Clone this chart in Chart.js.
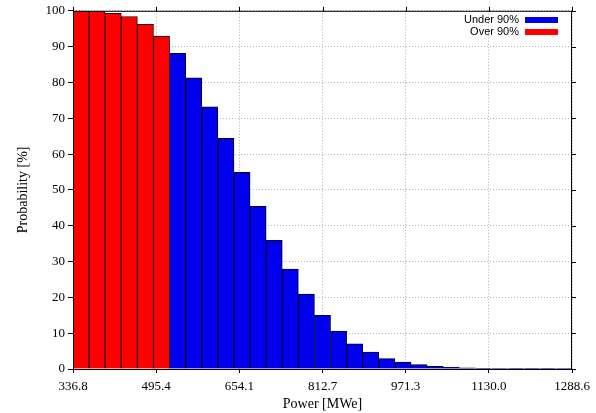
<!DOCTYPE html>
<html>
<head>
<meta charset="utf-8">
<script src="https://cdn.jsdelivr.net/npm/chart.js@4"></script>
<style>
  html, body { margin: 0; padding: 0; background: #fff; }
  #wrap { width: 596px; height: 413px; }
</style>
</head>
<body>
<div id="wrap"><canvas id="power-chart"></canvas></div>
<script>
// bin centres [MWe]
var binCenters = [
  352.15, 382.86, 413.56, 444.26, 474.97, 505.67, 536.37, 567.08, 597.78,
  628.48, 659.18, 689.89, 720.59, 751.29, 782.00, 812.70, 843.40, 874.11,
  904.81, 935.51, 966.22, 996.92, 1027.62, 1058.33, 1089.03, 1119.73,
  1150.44, 1181.14, 1211.84, 1242.55, 1273.25,
];
// first 6 bins are "over 90%", the rest "under 90%"
var overValues = [100, 99.8, 99.3, 98.4, 96.2, 92.9];
var underValues = [
  88.1, 81.3, 73.2, 64.4, 54.9, 45.4, 35.9, 27.9, 20.9, 15.0, 10.6, 7.0,
  4.7, 2.9, 1.9, 1.2, 0.75, 0.45, 0.3, 0.2, 0.12, 0.08, 0.05, 0.03, 0.02,
];
var xTicks = [336.8, 495.4, 654.1, 812.7, 971.3, 1130.0, 1288.6];

var overData = overValues.map(function (v, i) {
  return { x: binCenters[i], y: v };
});
var underData = underValues.map(function (v, i) {
  return { x: binCenters[i + overValues.length], y: v };
});

var serif = "'Liberation Serif', 'DejaVu Serif', serif";

// frame, mirrored ticks and the legend (text left of swatch)
var framePlugin = {
  id: "frame",
  afterDatasetsDraw: function (chart) {
    var ctx = chart.ctx;
    var a = chart.chartArea;
    var xs = chart.scales.x, ys = chart.scales.y;
    ctx.save();
    ctx.strokeStyle = "#000";
    ctx.lineWidth = 1;
    ctx.strokeRect(a.left + 0.5, a.top + 0.5, a.right - a.left - 1, a.bottom - a.top);
    ctx.beginPath();
    xTicks.forEach(function (t) {
      var px = Math.round(xs.getPixelForValue(t)) + 0.5;
      ctx.moveTo(px, a.top - 4);
      ctx.lineTo(px, a.top + 1);
    });
    ys.ticks.forEach(function (t) {
      var py = Math.round(ys.getPixelForValue(t.value)) + 0.5;
      ctx.moveTo(a.right - 1, py);
      ctx.lineTo(a.right + 4, py);
    });
    ctx.stroke();

    // legend
    var items = [chart.data.datasets[1], chart.data.datasets[0]];
    ctx.font = "11px 'Liberation Sans', Arial, sans-serif";
    ctx.textAlign = "right";
    ctx.textBaseline = "middle";
    items.forEach(function (ds, i) {
      var y = 20 + i * 12;
      ctx.fillStyle = "#000";
      ctx.fillText(ds.label, 519, y);
      ctx.fillStyle = ds.backgroundColor;
      ctx.fillRect(525, y - 3, 33, 6);
    });
    ctx.restore();
  },
};

var config = {
  type: "bar",
  data: {
    datasets: [
      {
        label: "Over 90%",
        data: overData,
        backgroundColor: "#ff0000",
        borderColor: "#2a0000",
        borderWidth: 1,
        barPercentage: 1,
        categoryPercentage: 1,
        grouped: false,
      },
      {
        label: "Under 90%",
        data: underData,
        backgroundColor: "#0000ee",
        borderColor: "#000030",
        borderWidth: 1,
        barPercentage: 1,
        categoryPercentage: 1,
        grouped: false,
      },
    ],
  },
  options: {
    responsive: true,
    maintainAspectRatio: false,
    animation: false,
    layout: { padding: { left: 0, right: 24, top: 10, bottom: 0 } },
    plugins: {
      legend: { display: false },
      tooltip: { enabled: false },
    },
    scales: {
      x: {
        type: "linear",
        min: 336.8,
        max: 1288.6,
        offset: false,
        afterBuildTicks: function (scale) {
          scale.ticks = xTicks.map(function (v) { return { value: v }; });
        },
        afterFit: function (scale) { scale.height = 44; },
        grid: {
          offset: false,
          color: "#b0b0b0",
          lineWidth: 1,
          tickColor: "#000",
          tickLength: 4,
        },
        border: { display: false, dash: [1, 2] },
        ticks: {
          color: "#000",
          padding: 6,
          maxRotation: 0,
          autoSkip: false,
          font: { family: serif, size: 13 },
          callback: function (v) { return Number(v).toFixed(1); },
        },
        title: {
          display: true,
          text: "Power [MWe]",
          color: "#000",
          font: { family: serif, size: 14 },
          padding: { top: 0, bottom: 0 },
        },
      },
      y: {
        min: 0,
        max: 100,
        afterFit: function (scale) { scale.width = 73; },
        grid: {
          color: "#b0b0b0",
          lineWidth: 1,
          tickColor: "#000",
          tickLength: 5,
        },
        border: { display: false, dash: [1, 2] },
        ticks: {
          stepSize: 10,
          color: "#000",
          padding: 3,
          font: { family: serif, size: 13 },
        },
        title: {
          display: true,
          text: "Probability [%]",
          color: "#000",
          font: { family: serif, size: 14 },
          padding: { top: 15, bottom: 0 },
        },
      },
    },
  },
  plugins: [framePlugin],
};

var ctxOne = document.getElementById("power-chart").getContext("2d");
new Chart(ctxOne, config);
</script>
</body>
</html>
